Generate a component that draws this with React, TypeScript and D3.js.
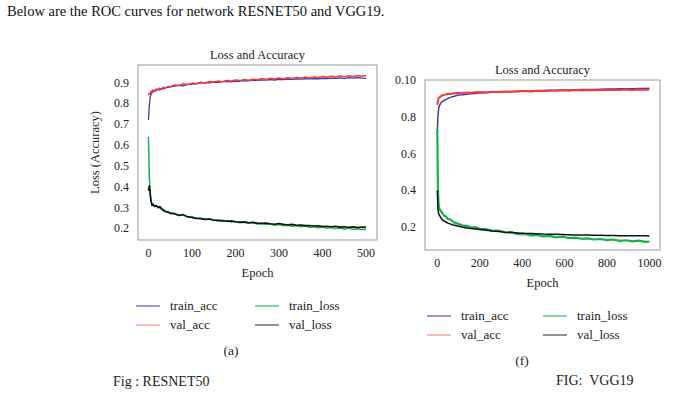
import React from 'react'
import { scaleLinear, line } from 'd3'

// epochs sampled for each figure
const resEpochs = [0,2,4,6,8,10,14,18,22,26,30,35,40,45,50,60,70,80,90,100,110,120,130,140,150,160,170,180,190,200,210,220,230,240,250,260,270,280,290,300,310,320,330,340,350,360,370,380,390,400,410,420,430,440,450,460,470,480,490,500]
const resTrainAcc = [0.72,0.79,0.83,0.845,0.85,0.855,0.86,0.862,0.868,0.865,0.872,0.87,0.876,0.878,0.88,0.884,0.887,0.885,0.892,0.893,0.895,0.898,0.9,0.899,0.903,0.902,0.905,0.906,0.904,0.908,0.907,0.91,0.909,0.912,0.911,0.913,0.912,0.915,0.913,0.916,0.915,0.917,0.916,0.918,0.917,0.919,0.918,0.92,0.919,0.921,0.92,0.922,0.921,0.923,0.92,0.924,0.922,0.925,0.922,0.921]
const resValAcc = [0.84,0.85,0.845,0.86,0.855,0.865,0.862,0.87,0.866,0.874,0.87,0.878,0.875,0.883,0.88,0.889,0.886,0.895,0.891,0.898,0.895,0.902,0.899,0.906,0.903,0.908,0.905,0.911,0.908,0.913,0.91,0.915,0.912,0.917,0.914,0.919,0.916,0.921,0.918,0.922,0.919,0.924,0.92,0.925,0.922,0.927,0.923,0.928,0.925,0.93,0.926,0.931,0.927,0.932,0.929,0.933,0.93,0.934,0.931,0.933]
const resTrainLoss = [0.64,0.45,0.36,0.33,0.32,0.318,0.31,0.307,0.299,0.3,0.291,0.29,0.282,0.281,0.274,0.272,0.263,0.266,0.254,0.256,0.248,0.25,0.243,0.245,0.238,0.24,0.234,0.237,0.23,0.233,0.227,0.229,0.224,0.227,0.221,0.223,0.218,0.221,0.215,0.218,0.213,0.215,0.21,0.213,0.208,0.211,0.205,0.208,0.203,0.206,0.201,0.204,0.199,0.202,0.197,0.2,0.195,0.198,0.194,0.196]
const resValLoss = [0.38,0.405,0.37,0.33,0.31,0.315,0.305,0.31,0.3,0.305,0.295,0.285,0.28,0.278,0.272,0.27,0.262,0.265,0.255,0.252,0.248,0.246,0.243,0.245,0.24,0.237,0.238,0.234,0.236,0.232,0.23,0.231,0.227,0.229,0.225,0.224,0.226,0.222,0.22,0.223,0.219,0.217,0.219,0.215,0.216,0.213,0.214,0.211,0.212,0.209,0.21,0.208,0.21,0.206,0.208,0.205,0.207,0.204,0.206,0.205]

const vggEpochs = [0,3,6,10,15,20,30,40,50,60,80,100,120,140,160,180,200,230,260,290,320,350,380,410,440,470,500,530,560,590,620,650,680,710,740,770,800,830,860,890,920,950,980,1000]
const vggTrainAcc = [0.72,0.8,0.84,0.86,0.872,0.88,0.888,0.895,0.9,0.904,0.912,0.918,0.92,0.923,0.925,0.927,0.93,0.931,0.933,0.934,0.936,0.937,0.938,0.94,0.94,0.942,0.943,0.944,0.944,0.945,0.946,0.947,0.948,0.948,0.949,0.95,0.951,0.951,0.952,0.953,0.953,0.954,0.954,0.955]
const vggValAcc = [0.864,0.885,0.9,0.905,0.91,0.915,0.918,0.922,0.925,0.923,0.928,0.93,0.929,0.932,0.931,0.934,0.935,0.933,0.936,0.935,0.938,0.936,0.939,0.94,0.938,0.941,0.94,0.942,0.941,0.944,0.942,0.945,0.943,0.946,0.944,0.946,0.945,0.947,0.945,0.948,0.946,0.948,0.947,0.948]
const vggTrainLoss = [0.73,0.42,0.32,0.3,0.29,0.285,0.265,0.258,0.245,0.242,0.225,0.218,0.208,0.207,0.198,0.2,0.191,0.19,0.18,0.182,0.171,0.173,0.162,0.163,0.155,0.158,0.15,0.153,0.145,0.149,0.141,0.143,0.137,0.139,0.133,0.136,0.13,0.133,0.126,0.129,0.123,0.127,0.12,0.122]
const vggValLoss = [0.4,0.3,0.275,0.265,0.255,0.245,0.235,0.228,0.222,0.218,0.21,0.205,0.2,0.196,0.193,0.19,0.187,0.183,0.179,0.176,0.173,0.171,0.169,0.167,0.166,0.165,0.163,0.162,0.161,0.16,0.159,0.158,0.158,0.157,0.156,0.156,0.155,0.155,0.154,0.154,0.153,0.153,0.153,0.152]

const resXTicks = [0,100,200,300,400,500]
const resYTicks = [0.2,0.3,0.4,0.5,0.6,0.7,0.8,0.9]
const vggXTicks = [0,200,400,600,800,1000]
const vggYTicks = [0.2,0.4,0.6,0.8,1.0]
const vggYLabels = ['0.2','0.4','0.6','0.8','0.10']

const legendNames = ['train_acc','val_acc','train_loss','val_loss']
const lineColors = ['#3b3bb8','#f43a34','#17b04a','#111111']
const legendColors = ['#6a5fc8','#f39a92','#2fcf6a','#555555']

const serif = '"Liberation Serif", "DejaVu Serif", serif'

function Chart({ x0, y0, w, h, xDomain, yDomain, xTicks, yTicks, yLabels, epochs, series, widths, yTitle }) {
  const x = scaleLinear().domain(xDomain).range([x0, x0 + w])
  const y = scaleLinear().domain(yDomain).range([y0 + h, y0])
  const mk = line().x((d, i) => x(epochs[i])).y(d => y(d))
  return (
    <g fontFamily={serif} fill="#222">
      <text x={x0 + w / 2} y={y0 - 6} textAnchor="middle" fontSize={12.5}>Loss and Accuracy</text>
      <rect x={x0} y={y0} width={w} height={h} fill="none" stroke="#999" strokeWidth={1} />
      {series.map((s, i) => (
        <path key={i} d={mk(s)} fill="none" stroke={lineColors[i]} strokeWidth={widths[i]} strokeLinejoin="round" />
      ))}
      {xTicks.map(t => (
        <text key={t} x={x(t)} y={y0 + h + 17} textAnchor="middle" fontSize={12}>{t}</text>
      ))}
      {yTicks.map((t, i) => (
        <text key={t} x={x0 - 9} y={y(t) + 4} textAnchor="end" fontSize={12}>{yLabels ? yLabels[i] : t.toFixed(1)}</text>
      ))}
      {yTitle && (
        <text transform={`translate(${x0 - 39},${y0 + h / 2}) rotate(-90)`} textAnchor="middle" fontSize={12.5}>{yTitle}</text>
      )}
      <text x={x0 + w / 2} y={y0 + h + 37} textAnchor="middle" fontSize={12.5}>Epoch</text>
    </g>
  )
}

function Legend({ x0, y0, dx, dy }) {
  return (
    <g fontFamily={serif} fontSize={13} fill="#222">
      {legendNames.map((n, i) => {
        const lx = x0 + Math.floor(i / 2) * dx
        const ly = y0 + (i % 2) * dy
        return (
          <g key={n}>
            <line x1={lx} x2={lx + 24} y1={ly} y2={ly} stroke={legendColors[i]} strokeWidth={1.3} />
            <text x={lx + 34} y={ly + 4}>{n}</text>
          </g>
        )
      })}
    </g>
  )
}

export default function App() {
  return (
    <svg width={698} height={393} style={{ position: 'absolute', left: 0, top: 0, background: '#fff' }}>
      <text x={7} y={16} fontFamily={serif} fontSize={14.5} fill="#111">Below are the ROC curves for network RESNET50 and VGG19.</text>
      <Chart x0={138} y0={65} w={239} h={175} xDomain={[-24, 525]} yDomain={[0.144, 0.985]}
        xTicks={resXTicks} yTicks={resYTicks} epochs={resEpochs}
        series={[resTrainAcc, resValAcc, resTrainLoss, resValLoss]} widths={[1.3, 1.5, 1.5, 1.6]} yTitle="Loss (Accuracy)" />
      <Chart x0={425} y0={80} w={235} h={170} xDomain={[-58, 1050]} yDomain={[0.076, 1.0]}
        xTicks={vggXTicks} yTicks={vggYTicks} yLabels={vggYLabels} epochs={vggEpochs}
        series={[vggTrainAcc, vggValAcc, vggTrainLoss, vggValLoss]} widths={[1.5, 2, 2.2, 1.5]} />
      <Legend x0={136} y0={306} dx={119} dy={19} />
      <Legend x0={427} y0={316} dx={116} dy={19} />
      <g fontFamily={serif} fill="#222">
        <text x={231} y={355} textAnchor="middle" fontSize={13.5}>(a)</text>
        <text x={522} y={365} textAnchor="middle" fontSize={13.5}>(f)</text>
        <text x={113} y={386} fontSize={14}>Fig : RESNET50</text>
        <text x={556} y={385} fontSize={14} style={{ whiteSpace: 'pre' }}>FIG:  VGG19</text>
      </g>
    </svg>
  )
}
